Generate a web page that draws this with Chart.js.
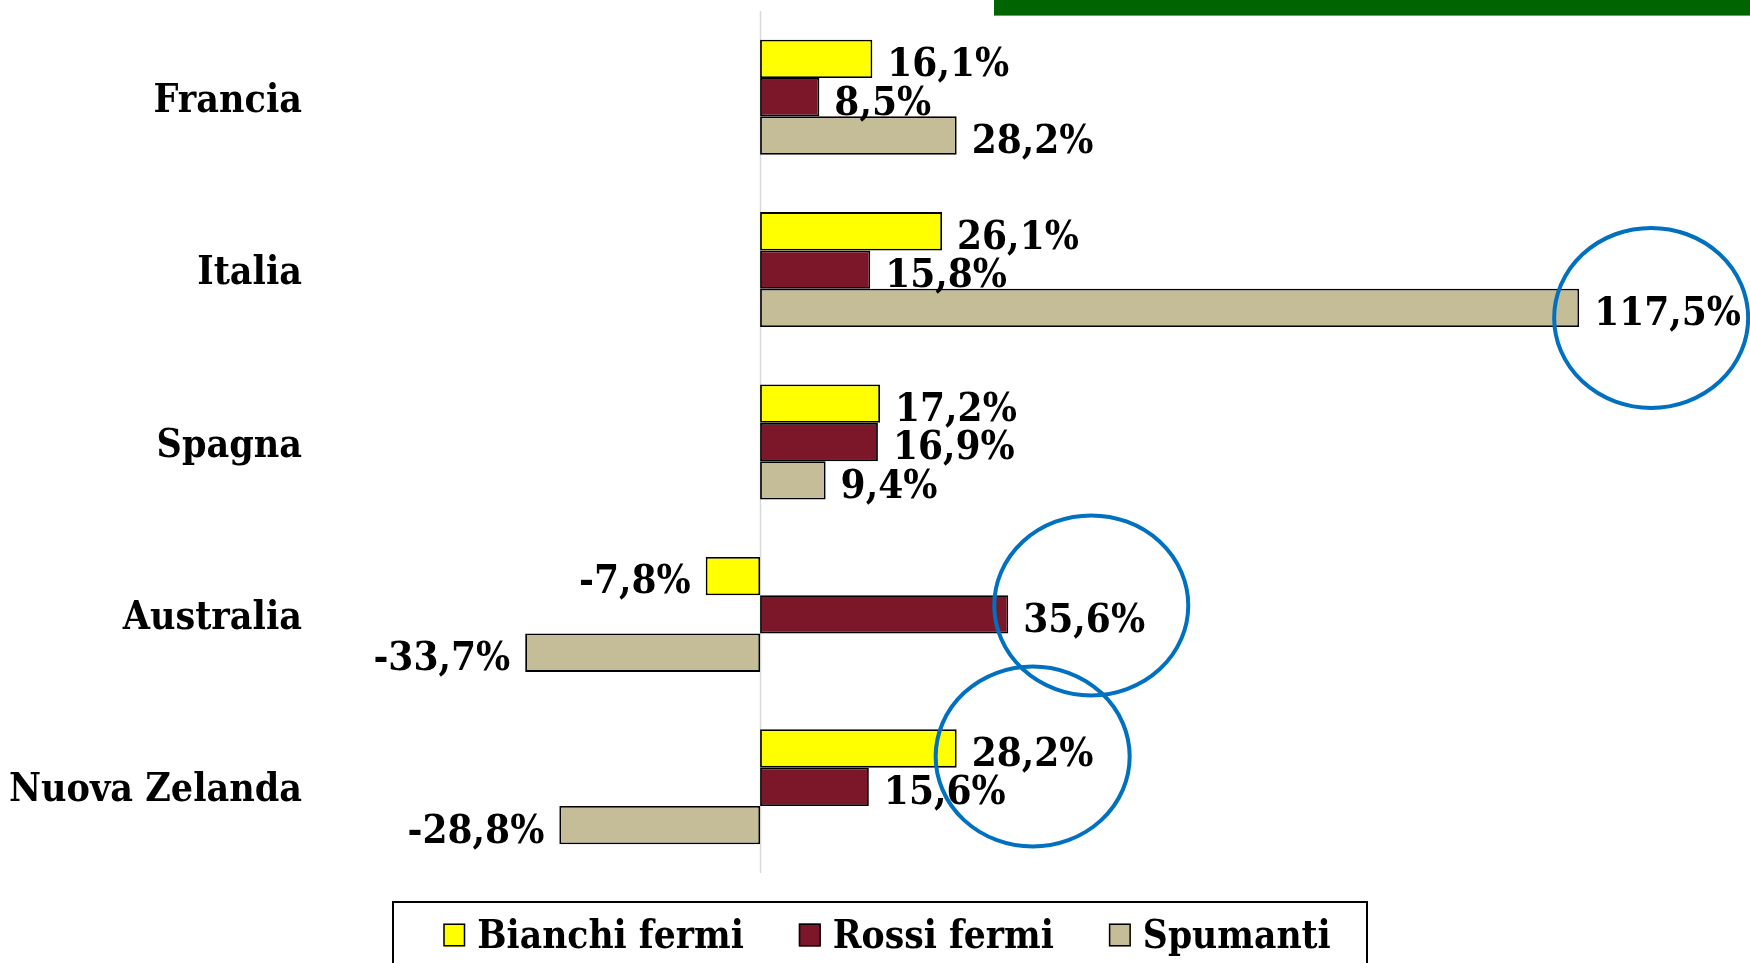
<!DOCTYPE html>
<html>
<head>
<meta charset="utf-8">
<script src="https://cdn.jsdelivr.net/npm/chart.js@4.4.1/dist/chart.umd.min.js"></script>
<style>
  html, body { margin: 0; padding: 0; background: #ffffff; }
  #wrap { width: 1750px; height: 963px; position: relative; }
</style>
</head>
<body>
<div id="wrap"><canvas id="c" width="1750" height="963"></canvas></div>
<script>
// ---- data ----
const categories = ['Francia', 'Italia', 'Spagna', 'Australia', 'Nuova Zelanda'];
const seriesLabels = ['Bianchi fermi', 'Rossi fermi', 'Spumanti'];
const bianchiFermi = [16.1, 26.1, 17.2, -7.8, 28.2];
const rossiFermi = [8.5, 15.8, 16.9, 35.6, 15.6];
const spumanti = [28.2, 117.5, 9.4, -33.7, -28.8];
// highlighted values (series index, category index)
const highlighted = [[2, 1], [1, 3], [0, 4]];

// ---- style ----
const FONT = "'DejaVu Serif Condensed', 'DejaVu Serif', serif";
const colors = ['#FFFF00', '#7B1728', '#C4BD97'];
const ellipseStyle = [
  { dx: 72, dy: 10 },
  { dx: 83, dy: -9 },
  { dx: 76, dy: 8 }
];

function fmt(v) {
  return v.toFixed(1).replace('.', ',') + '%';
}

const valueLabels = {
  id: 'valueLabels',
  afterDatasetsDraw(chart) {
    const ctx = chart.ctx;
    ctx.save();
    ctx.font = 'bold 40px ' + FONT;
    ctx.fillStyle = '#000';
    ctx.textBaseline = 'middle';
    chart.data.datasets.forEach((ds, i) => {
      const meta = chart.getDatasetMeta(i);
      meta.data.forEach((bar, j) => {
        const v = ds.data[j];
        const txt = fmt(v);
        if (v >= 0) {
          ctx.textAlign = 'left';
          ctx.fillText(txt, bar.x + 15, bar.y + 7);
        } else {
          ctx.textAlign = 'right';
          ctx.fillText(txt, bar.x - 15, bar.y + 7);
        }
      });
    });
    // highlight ellipses
    ctx.strokeStyle = '#0070C0';
    ctx.lineWidth = 4;
    highlighted.forEach(([s, k], n) => {
      const bar = chart.getDatasetMeta(s).data[k];
      const st = ellipseStyle[n];
      ctx.beginPath();
      ctx.ellipse(bar.x + st.dx, bar.y + st.dy, 97, 90, 0, 0, Math.PI * 2);
      ctx.stroke();
    });
    ctx.restore();
  }
};

const zeroLine = {
  id: 'zeroLine',
  beforeDatasetsDraw(chart) {
    const ctx = chart.ctx;
    const x = Math.round(chart.scales.x.getPixelForValue(0)) + 0.5;
    ctx.save();
    ctx.strokeStyle = '#D9D9D9';
    ctx.lineWidth = 1.5;
    ctx.beginPath();
    ctx.moveTo(x, chart.chartArea.top);
    ctx.lineTo(x, chart.chartArea.bottom);
    ctx.stroke();
    ctx.restore();
  }
};

const legendBox = {
  id: 'legendBox',
  afterDraw(chart) {
    const ctx = chart.ctx;
    ctx.save();
    // title banner (cropped in the reference)
    ctx.fillStyle = '#006400';
    ctx.fillRect(994, 0, 756, 15.6);
    // legend frame
    ctx.strokeStyle = '#000';
    ctx.lineWidth = 2;
    ctx.strokeRect(393, 902, 974, 80);
    ctx.font = 'bold 38.5px ' + FONT;
    ctx.textBaseline = 'middle';
    ctx.textAlign = 'left';
    const sw = 22, gapText = 12, gapItem = 55;
    const widths = chart.data.datasets.map(d => ctx.measureText(d.label).width);
    let total = 0;
    widths.forEach((w, i) => { total += sw + gapText + w + (i ? gapItem : 0); });
    let x = 887 - total / 2;
    const yMid = 935;
    chart.data.datasets.forEach((d, i) => {
      ctx.fillStyle = d.backgroundColor;
      ctx.fillRect(x, yMid - 11.5, sw, 23);
      ctx.lineWidth = 1.5;
      ctx.strokeStyle = '#000';
      ctx.strokeRect(x + 0.75, yMid - 11.5 + 0.75, sw - 1.5, 23 - 1.5);
      ctx.fillStyle = '#000';
      ctx.fillText(d.label, x + sw + gapText, yMid + 3);
      x += sw + gapText + widths[i] + gapItem;
    });
    ctx.restore();
  }
};

new Chart(document.getElementById('c'), {
  type: 'bar',
  data: {
    labels: categories,
    datasets: [
      { label: seriesLabels[0], data: bianchiFermi, backgroundColor: colors[0] },
      { label: seriesLabels[1], data: rossiFermi, backgroundColor: colors[1] },
      { label: seriesLabels[2], data: spumanti, backgroundColor: colors[2] }
    ]
  },
  options: {
    indexAxis: 'y',
    responsive: false,
    devicePixelRatio: 1,
    animation: false,
    layout: { padding: { left: 0, right: 14, top: 11, bottom: 90 } },
    datasets: {
      bar: {
        borderColor: '#000',
        borderWidth: 1.8,
        borderSkipped: false,
        categoryPercentage: 0.667,
        barPercentage: 1
      }
    },
    scales: {
      x: {
        display: false,
        min: -65,
        max: 140
      },
      y: {
        afterFit(scale) {
          scale.width = 307;
          scale.paddingTop = 0;
          scale.paddingBottom = 0;
        },
        grid: { display: false, drawTicks: false },
        border: { display: false },
        ticks: {
          color: '#000',
          padding: 5,
          labelOffset: 4.5,
          font: { family: FONT, size: 39, weight: 'bold' }
        }
      }
    },
    plugins: {
      legend: { display: false },
      tooltip: { enabled: false }
    }
  },
  plugins: [zeroLine, valueLabels, legendBox]
});
</script>
</body>
</html>
